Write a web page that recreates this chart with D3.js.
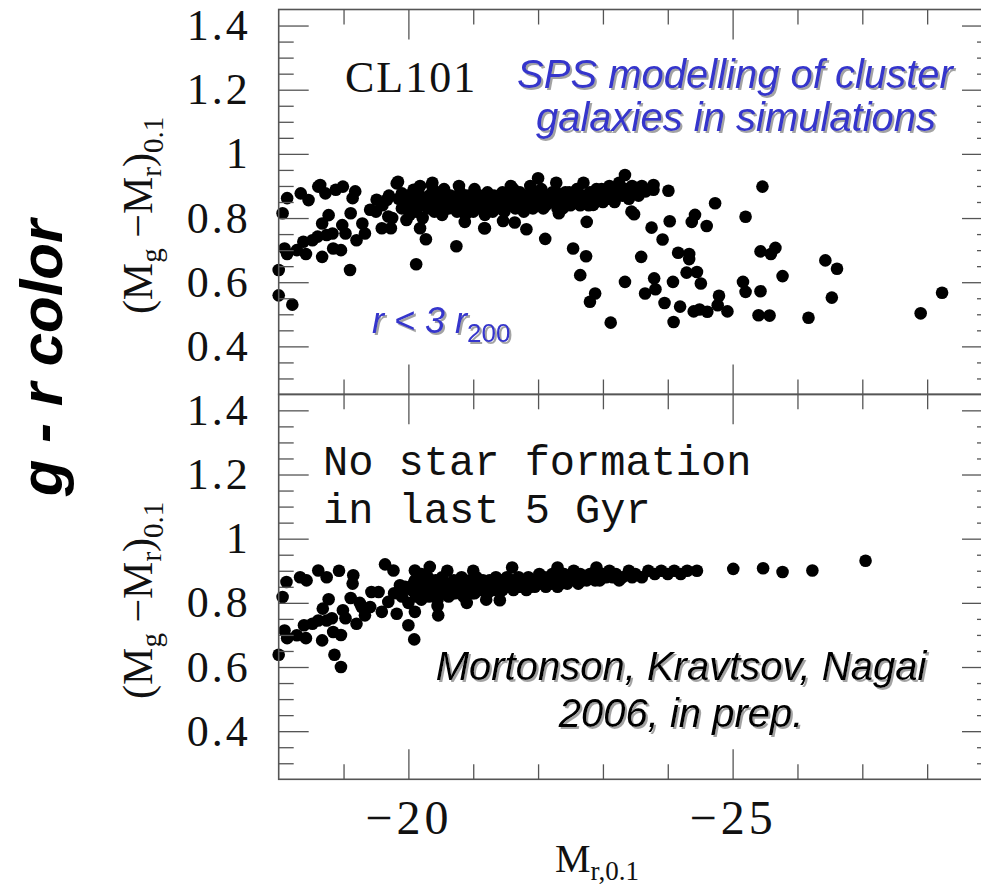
<!DOCTYPE html>
<html>
<head>
<meta charset="utf-8">
<script src="https://cdn.jsdelivr.net/npm/d3@7"></script>
<style>
  body { margin: 0; background: #fff; }
  svg { display: block; }
</style>
</head>
<body>
<div id="container"></div>
<script>
/* CONSTANTS AND GLOBALS */
const width = 981,
  height = 892,
  left = 278.7,
  right = 992,
  panelTops = [9.5, 394.3],
  panelHeight = 385,
  radius = 6.3;

/* DATA */
const xDomain = [-18, -29];
const yDomain = [0.25, 1.45];
const xMajor = [-20, -25];
const xMinor = [-19, -21, -22, -23, -24, -26, -27, -28];
const yMajor = [0.4, 0.6, 0.8, 1, 1.2, 1.4];
const yMinor = [0.3, 0.35, 0.45, 0.5, 0.55, 0.65, 0.7, 0.75, 0.85, 0.9, 0.95,
  1.05, 1.1, 1.15, 1.25, 1.3, 1.35];

// top panel: all galaxies, r < 3 r200
const allFaint = [
  [-18.0, 0.638], [-18.0, 0.559], [-18.21, 0.53], [-18.06, 0.815], [-18.13, 0.862],
  [-18.34, 0.877], [-18.46, 0.856], [-18.61, 0.898], [-18.64, 0.903], [-18.72, 0.877],
  [-18.88, 0.888], [-18.99, 0.898], [-18.09, 0.705], [-18.13, 0.688], [-18.28, 0.70],
  [-18.38, 0.726], [-18.42, 0.688], [-18.52, 0.731], [-18.60, 0.742], [-18.67, 0.679],
  [-18.67, 0.783], [-18.77, 0.809], [-18.74, 0.747], [-18.83, 0.752], [-18.84, 0.705],
  [-18.96, 0.70], [-18.98, 0.778], [-19.03, 0.752], [-19.10, 0.638], [-19.11, 0.815],
  [-19.14, 0.862], [-19.18, 0.883], [-19.20, 0.731], [-19.29, 0.783], [-19.33, 0.752],
  [-19.41, 0.826], [-19.51, 0.857], [-19.59, 0.768], [-19.67, 0.857], [-19.69, 0.805],
  [-19.73, 0.768], [-19.82, 0.908], [-19.84, 0.913], [-19.90, 0.877], [-19.97, 0.794],
  [-20.08, 0.888], [-20.12, 0.656], [-20.18, 0.768], [-20.27, 0.734], [-20.36, 0.903],
  [-20.37, 0.91], [-20.74, 0.712], [-20.87, 0.788], [-21.17, 0.768], [-21.18, 0.768]
];
const allBand = [
  [-19.85, 0.86], [-19.9, 0.83], [-19.95, 0.85], [-20.0, 0.87], [-20.02, 0.81], [-20.05, 0.84],
  [-20.1, 0.86], [-20.12, 0.82], [-20.15, 0.88], [-20.2, 0.84], [-20.22, 0.80], [-20.25, 0.86],
  [-20.3, 0.83], [-20.32, 0.87], [-20.35, 0.85], [-20.4, 0.82], [-20.42, 0.88], [-20.45, 0.84],
  [-20.5, 0.86], [-20.52, 0.81], [-20.55, 0.89], [-20.6, 0.85], [-20.62, 0.83], [-20.65, 0.87],
  [-20.7, 0.84], [-20.72, 0.86], [-20.75, 0.82], [-20.8, 0.88], [-20.82, 0.85], [-20.85, 0.83],
  [-20.9, 0.87], [-20.92, 0.84], [-20.95, 0.86], [-21.0, 0.82], [-21.02, 0.89], [-21.05, 0.85],
  [-21.1, 0.87], [-21.12, 0.83], [-21.15, 0.86], [-21.2, 0.84], [-21.22, 0.88], [-21.25, 0.85],
  [-21.3, 0.82], [-21.32, 0.87], [-21.35, 0.85], [-21.4, 0.86], [-21.42, 0.83], [-21.45, 0.88],
  [-21.5, 0.85], [-21.52, 0.87], [-21.55, 0.84], [-21.6, 0.86], [-21.62, 0.89], [-21.65, 0.83],
  [-21.7, 0.86], [-21.72, 0.88], [-21.75, 0.85], [-21.8, 0.87], [-21.82, 0.84], [-21.85, 0.86],
  [-21.9, 0.88], [-21.92, 0.83], [-21.95, 0.86], [-22.0, 0.87], [-22.02, 0.85], [-22.05, 0.89],
  [-22.1, 0.86], [-22.12, 0.84], [-22.15, 0.87], [-22.2, 0.85], [-22.22, 0.88], [-22.25, 0.86],
  [-22.3, 0.83], [-22.35, 0.87], [-22.4, 0.85], [-22.42, 0.88], [-22.45, 0.86], [-22.5, 0.84],
  [-22.55, 0.87], [-22.6, 0.89], [-22.62, 0.86], [-22.65, 0.84], [-22.7, 0.87], [-22.75, 0.85],
  [-22.8, 0.88], [-22.85, 0.86], [-22.9, 0.89], [-22.95, 0.87], [-23.0, 0.85], [-23.05, 0.88],
  [-23.1, 0.90], [-23.15, 0.86], [-23.2, 0.88], [-23.25, 0.91], [-23.3, 0.87], [-23.35, 0.89],
  [-23.4, 0.86], [-23.45, 0.90], [-23.5, 0.88], [-23.55, 0.87], [-23.6, 0.90],
  [-20.08, 0.83], [-20.28, 0.85], [-20.48, 0.87], [-20.58, 0.83], [-20.68, 0.85], [-20.88, 0.81],
  [-20.98, 0.85], [-21.08, 0.84], [-21.18, 0.81], [-21.28, 0.86], [-21.38, 0.84], [-21.48, 0.82],
  [-21.58, 0.85], [-21.68, 0.84], [-21.78, 0.82], [-21.88, 0.85], [-21.98, 0.84], [-22.08, 0.83],
  [-22.18, 0.86], [-22.28, 0.88], [-22.38, 0.83], [-22.48, 0.88], [-22.58, 0.85], [-22.68, 0.86],
  [-22.78, 0.84], [-22.88, 0.85], [-22.98, 0.89], [-23.08, 0.86], [-23.18, 0.85], [-23.28, 0.88],
  [-20.18, 0.90], [-20.38, 0.89], [-20.78, 0.90], [-21.58, 0.90], [-21.88, 0.90], [-22.28, 0.91],
  [-22.7, 0.91], [-19.6, 0.84], [-19.7, 0.87], [-19.5, 0.82], [-19.75, 0.80]
];
const allBright = [
  [-22.0, 0.924], [-23.34, 0.934], [-23.78, 0.903], [-24.01, 0.885], [-25.46, 0.898],
  [-23.78, 0.888], [-23.66, 0.883], [-24.73, 0.846], [-25.20, 0.804], [-24.42, 0.81],
  [-24.37, 0.788], [-24.60, 0.775], [-24.03, 0.79], [-23.75, 0.77], [-23.92, 0.733],
  [-23.44, 0.82], [-23.48, 0.812], [-22.85, 0.841], [-22.75, 0.788], [-22.32, 0.815],
  [-22.11, 0.735], [-21.82, 0.765], [-21.64, 0.786], [-21.46, 0.791], [-22.54, 0.705],
  [-22.74, 0.681], [-22.65, 0.622], [-22.88, 0.565], [-22.80, 0.539], [-23.12, 0.474],
  [-23.34, 0.601], [-23.59, 0.679], [-23.65, 0.565], [-23.79, 0.612], [-23.81, 0.578],
  [-23.95, 0.535], [-24.09, 0.476], [-24.08, 0.601], [-24.16, 0.692], [-24.19, 0.524],
  [-24.29, 0.630], [-24.33, 0.688], [-24.33, 0.672], [-24.45, 0.632], [-24.51, 0.596],
  [-24.40, 0.509], [-24.49, 0.515], [-24.61, 0.508], [-24.79, 0.558], [-24.77, 0.528],
  [-24.92, 0.509], [-25.16, 0.601], [-25.20, 0.57], [-25.43, 0.696], [-25.59, 0.688],
  [-25.66, 0.707], [-25.43, 0.572], [-25.77, 0.619], [-25.40, 0.497], [-25.57, 0.496],
  [-26.17, 0.489], [-26.43, 0.668], [-26.61, 0.642], [-26.53, 0.552], [-27.90, 0.503],
  [-28.23, 0.567]
];

// bottom panel: no star formation in last 5 Gyr
const oldFaint = [
  [-18.12, 0.865], [-18.33, 0.88], [-18.43, 0.87], [-18.61, 0.901], [-18.74, 0.88],
  [-18.93, 0.90], [-19.15, 0.886], [-19.64, 0.92], [-19.77, 0.901], [-20.10, 0.901],
  [-20.33, 0.912], [-18.06, 0.818], [-18.0, 0.638], [-18.09, 0.714], [-18.13, 0.69],
  [-18.28, 0.699], [-18.42, 0.69], [-18.39, 0.73], [-18.52, 0.735], [-18.61, 0.745],
  [-18.67, 0.683], [-18.68, 0.782], [-18.77, 0.811], [-18.74, 0.745], [-18.82, 0.752],
  [-18.84, 0.709], [-18.86, 0.638], [-18.96, 0.60], [-18.96, 0.70], [-18.99, 0.777],
  [-19.03, 0.752], [-19.11, 0.815], [-19.14, 0.86], [-19.20, 0.735], [-19.28, 0.787],
  [-19.33, 0.761], [-19.41, 0.787], [-19.43, 0.834], [-19.54, 0.834], [-19.59, 0.772],
  [-19.69, 0.803], [-19.82, 0.766], [-20.0, 0.73], [-20.09, 0.686], [-20.10, 0.772],
  [-20.46, 0.761], [-19.87, 0.855], [-19.78, 0.83], [-19.25, 0.80]
];
const oldBand = [
  [-19.9, 0.82], [-19.95, 0.85], [-20.0, 0.80], [-20.05, 0.84], [-20.1, 0.87], [-20.12, 0.82],
  [-20.15, 0.85], [-20.2, 0.81], [-20.22, 0.86], [-20.25, 0.84], [-20.3, 0.88], [-20.32, 0.82],
  [-20.35, 0.85], [-20.4, 0.83], [-20.42, 0.87], [-20.45, 0.81], [-20.5, 0.85], [-20.52, 0.88],
  [-20.55, 0.83], [-20.6, 0.86], [-20.62, 0.82], [-20.65, 0.85], [-20.7, 0.87], [-20.72, 0.83],
  [-20.75, 0.86], [-20.8, 0.84], [-20.82, 0.88], [-20.85, 0.82], [-20.9, 0.86], [-20.92, 0.84],
  [-20.95, 0.87], [-21.0, 0.85], [-21.02, 0.83], [-21.05, 0.88], [-21.1, 0.86], [-21.12, 0.84],
  [-21.15, 0.87], [-21.2, 0.85], [-21.22, 0.83], [-21.25, 0.87], [-21.3, 0.86], [-21.32, 0.84],
  [-21.35, 0.88], [-21.4, 0.85], [-21.42, 0.87], [-21.45, 0.84], [-21.5, 0.86], [-21.52, 0.88],
  [-21.55, 0.85], [-21.6, 0.87], [-21.62, 0.84], [-21.65, 0.86], [-21.7, 0.88], [-21.72, 0.85],
  [-21.75, 0.87], [-21.8, 0.86], [-21.82, 0.84], [-21.85, 0.88], [-21.9, 0.86], [-21.92, 0.87],
  [-21.95, 0.85], [-22.0, 0.87], [-22.02, 0.89], [-22.05, 0.86], [-22.1, 0.88], [-22.12, 0.85],
  [-22.15, 0.87], [-22.2, 0.86], [-22.22, 0.89], [-22.25, 0.87], [-22.3, 0.85], [-22.32, 0.88],
  [-22.35, 0.86], [-22.4, 0.89], [-22.42, 0.87], [-22.45, 0.86], [-22.5, 0.88], [-22.55, 0.90],
  [-22.6, 0.87], [-22.62, 0.86], [-22.65, 0.89], [-22.7, 0.88], [-22.75, 0.87], [-22.8, 0.89],
  [-22.85, 0.88], [-22.9, 0.90], [-22.95, 0.87], [-23.0, 0.89], [-23.05, 0.88], [-23.1, 0.90],
  [-23.15, 0.88], [-23.2, 0.89], [-23.3, 0.88], [-23.4, 0.90], [-23.5, 0.89], [-23.6, 0.88],
  [-23.7, 0.90], [-23.8, 0.89], [-23.9, 0.90], [-24.0, 0.89], [-24.1, 0.90], [-24.2, 0.89],
  [-24.3, 0.90], [-24.45, 0.90],
  [-20.08, 0.86], [-20.18, 0.83], [-20.28, 0.86], [-20.38, 0.84], [-20.48, 0.86], [-20.58, 0.84],
  [-20.68, 0.83], [-20.78, 0.85], [-20.88, 0.84], [-20.98, 0.83], [-21.08, 0.85], [-21.18, 0.86],
  [-21.28, 0.84], [-21.38, 0.86], [-21.48, 0.85], [-21.58, 0.86], [-21.68, 0.85], [-21.78, 0.87],
  [-21.88, 0.85], [-21.98, 0.86], [-22.08, 0.87], [-22.18, 0.88], [-22.28, 0.86], [-22.38, 0.87],
  [-22.48, 0.87], [-22.58, 0.88], [-22.68, 0.87], [-22.78, 0.88], [-22.88, 0.87], [-23.25, 0.87],
  [-23.45, 0.88], [-20.2, 0.89], [-20.6, 0.90], [-21.0, 0.90], [-21.6, 0.91], [-22.3, 0.91],
  [-22.9, 0.91], [-20.45, 0.79], [-21.2, 0.81], [-21.41, 0.808], [-20.9, 0.80]
];
const oldBright = [
  [-25.01, 0.906], [-25.47, 0.908], [-25.77, 0.896], [-26.23, 0.901], [-27.05, 0.931]
];

const panels = [
  { top: panelTops[0], points: allFaint.concat(allBand, allBright) },
  { top: panelTops[1], points: oldFaint.concat(oldBand, oldBright) }
];

const svg = d3.select("#container")
  .append("svg")
  .attr("width", width)
  .attr("height", height)
  .style("font-family", "'Liberation Serif', serif");

// soft grey drop shadow for the slide annotations
svg.append("defs")
  .append("filter")
  .attr("id", "shadow")
  .attr("x", "-5%").attr("y", "-20%")
  .attr("width", "115%").attr("height", "150%")
  .append("feDropShadow")
  .attr("dx", 2)
  .attr("dy", 2)
  .attr("stdDeviation", 0.6)
  .attr("flood-color", "#999")
  .attr("flood-opacity", 0.9);

/* SCALES */
const xScale = d3.scaleLinear()
  .domain(xDomain)
  .range([left, right]);

const tickColor = "#555";

panels.forEach((p, i) => {
  const yScale = d3.scaleLinear()
    .domain(yDomain)
    .range([p.top + panelHeight, p.top]);

  const g = svg.append("g").attr("class", "panel-" + i);

  // dots
  g.selectAll(".point")
    .data(p.points)
    .join("circle")
    .attr("class", "point")
    .attr("cx", d => xScale(d[0]))
    .attr("cy", d => yScale(d[1]))
    .attr("r", radius)
    .style("fill", "black");

  // axes: minor + major ticks on all four sides, pointing inward
  const addAxis = (axis, tx, ty, cls) => {
    const a = g.append("g")
      .attr("class", cls)
      .attr("transform", `translate(${tx},${ty})`)
      .call(axis);
    a.select(".domain").remove();
    a.selectAll("line").attr("stroke", tickColor).attr("stroke-width", 1.3);
    return a;
  };

  const bottom = p.top + panelHeight;
  addAxis(d3.axisLeft(yScale).tickValues(yMinor).tickSize(-15).tickFormat(""), left, 0, "y-minor");
  const yAx = addAxis(d3.axisLeft(yScale).tickValues(yMajor).tickSize(-30).tickPadding(28)
    .tickFormat(d3.format("")), left, 0, "y-axis");
  yAx.selectAll("text")
    .style("font-family", "'Liberation Serif', serif")
    .style("font-size", "44px")
    .style("letter-spacing", "3px")
    .attr("fill", "#111");

  addAxis(d3.axisRight(yScale).tickValues(yMinor).tickSize(-15).tickFormat(""), right, 0, "y-minor-r");
  addAxis(d3.axisRight(yScale).tickValues(yMajor).tickSize(-30).tickFormat(""), right, 0, "y-major-r");

  addAxis(d3.axisTop(xScale).tickValues(xMinor).tickSize(-15).tickFormat(""), 0, p.top, "x-minor-t");
  addAxis(d3.axisTop(xScale).tickValues(xMajor).tickSize(-30).tickFormat(""), 0, p.top, "x-major-t");
  addAxis(d3.axisBottom(xScale).tickValues(xMinor).tickSize(-15).tickFormat(""), 0, bottom, "x-minor-b");
  const xAx = addAxis(d3.axisBottom(xScale).tickValues(xMajor).tickSize(-30).tickPadding(21)
    .tickFormat(i === 1 ? d3.format("") : ""), 0, bottom, "x-axis");
  xAx.selectAll("text")
    .style("font-family", "'Liberation Serif', serif")
    .style("font-size", "48px")
    .style("letter-spacing", "4px")
    .attr("fill", "#111");

  // frame
  g.append("rect")
    .attr("x", left)
    .attr("y", p.top)
    .attr("width", right - left)
    .attr("height", panelHeight)
    .attr("fill", "none")
    .attr("stroke", tickColor)
    .attr("stroke-width", 1.6);

  // y axis title (M_g - M_r)_0.1
  const yc = p.top + panelHeight * 0.535;
  const yt = g.append("text")
    .attr("transform", `translate(152,${yc}) rotate(-90)`)
    .attr("text-anchor", "middle")
    .style("font-family", "'Liberation Serif', serif")
    .style("font-size", "42px")
    .attr("fill", "#111");
  yt.append("tspan").text("(M");
  yt.append("tspan").attr("dy", 9).style("font-size", "29px").text("g");
  yt.append("tspan").attr("dy", -9).text(" \u2212M");
  yt.append("tspan").attr("dy", 9).style("font-size", "29px").text("r");
  yt.append("tspan").attr("dy", -9).text(")");
  yt.append("tspan").attr("dy", 11).style("font-size", "29px").text("0.1");
});

/* ANNOTATIONS */
const shadowText = (x, y, txt, size, color) => {
  svg.append("text")
    .attr("x", x)
    .attr("y", y)
    .attr("text-anchor", "middle")
    .attr("filter", "url(#shadow)")
    .style("font-family", "'Liberation Sans', Arial, sans-serif")
    .style("font-style", "italic")
    .style("font-size", size + "px")
    .attr("fill", color)
    .text(txt);
};

const blue = "#3434cc";

svg.append("text")
  .attr("x", 345)
  .attr("y", 92)
  .style("font-family", "'Liberation Serif', serif")
  .style("font-size", "44px")
  .style("letter-spacing", "2px")
  .attr("fill", "#111")
  .text("CL101");

shadowText(735, 88, "SPS modelling of cluster", 40, blue);
shadowText(736, 131, "galaxies in simulations", 40, blue);

// r < 3 r200
const rt = svg.append("text")
  .attr("x", 372)
  .attr("y", 333)
  .attr("filter", "url(#shadow)")
  .style("font-family", "'Liberation Sans', Arial, sans-serif")
  .style("font-size", "36px")
  .attr("fill", blue);
rt.append("tspan").style("font-style", "italic").text("r < 3 r");
rt.append("tspan").attr("dy", 9).style("font-size", "26px").text("200");

svg.append("text")
  .attr("x", 323)
  .attr("y", 475)
  .style("font-family", "'Liberation Mono', monospace")
  .style("font-size", "42px")
  .attr("fill", "#111")
  .text("No star formation");
svg.append("text")
  .attr("x", 323)
  .attr("y", 523)
  .style("font-family", "'Liberation Mono', monospace")
  .style("font-size", "42px")
  .attr("fill", "#111")
  .text("in last 5 Gyr");

shadowText(681, 680, "Mortonson, Kravtsov, Nagai", 40, "#000");
shadowText(681, 727, "2006, in prep.", 40, "#000");

// x axis title
const xt = svg.append("text")
  .attr("x", 597)
  .attr("y", 872)
  .attr("text-anchor", "middle")
  .style("font-family", "'Liberation Serif', serif")
  .style("font-size", "40px")
  .attr("fill", "#111");
xt.append("tspan").text("M");
xt.append("tspan").attr("dy", 8).style("font-size", "27px").text("r,0.1");

// big left title
svg.append("text")
  .attr("transform", "translate(62,358) rotate(-90)")
  .attr("text-anchor", "middle")
  .style("font-family", "'Liberation Sans', Arial, sans-serif")
  .style("font-weight", "bold")
  .style("font-style", "italic")
  .style("font-size", "60px")
  .attr("fill", "#000")
  .text("g - r color");
</script>
</body>
</html>
